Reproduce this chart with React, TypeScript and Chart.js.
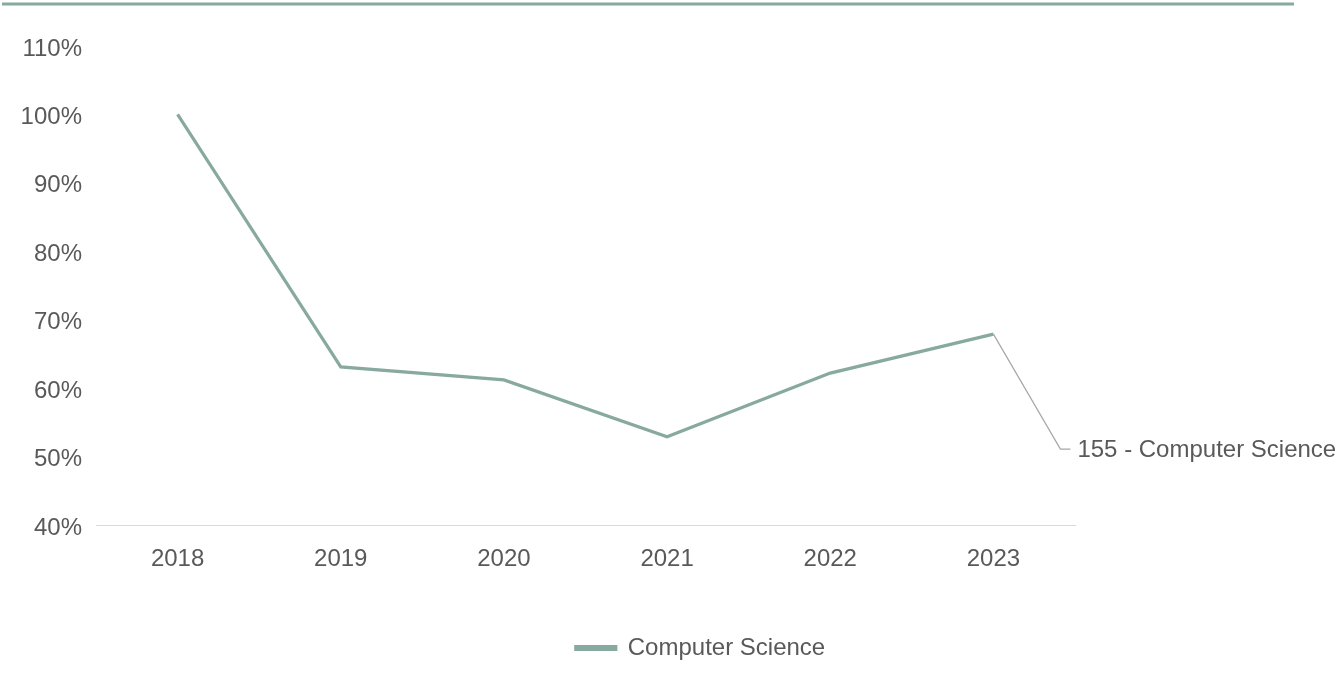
import React, { useEffect, useRef } from "react";
import { Chart, registerables } from "chart.js";

Chart.register(...registerables);

const years = ["2018", "2019", "2020", "2021", "2022", "2023"];
const seriesName = "Computer Science";
const values = [100, 63.1, 61.2, 52.9, 62.2, 67.9];
const yTicks = { min: 40, max: 110, step: 10 };
const calloutText = "155 - Computer Science";

const LINE_COLOR = "#87a9a0";
const TEXT_COLOR = "#595959";
const FONT = "'Liberation Sans', Arial, sans-serif";
const FONT_SIZE = 24;

const decorPlugin = {
  id: "decor",
  afterLayout(chart: any) {
    const lg = chart.legend;
    if (lg) {
      lg.left += 29;
      lg.right += 29;
    }
  },
  beforeDraw(chart: any) {
    const { ctx } = chart;
    ctx.save();
    ctx.strokeStyle = LINE_COLOR;
    ctx.lineWidth = 3;
    ctx.beginPath();
    ctx.moveTo(2, 4);
    ctx.lineTo(1294, 4);
    ctx.stroke();
    ctx.restore();
  },
  afterDatasetsDraw(chart: any) {
    const meta = chart.getDatasetMeta(0);
    const last = meta.data[meta.data.length - 1];
    if (!last) return;
    const { ctx } = chart;
    const x0 = last.x;
    const y0 = last.y;
    const x1 = x0 + 67;
    const y1 = y0 + 115;
    ctx.save();
    ctx.strokeStyle = "#a6a6a6";
    ctx.lineWidth = 1.2;
    ctx.beginPath();
    ctx.moveTo(x0, y0);
    ctx.lineTo(x1, y1);
    ctx.lineTo(x1 + 10, y1);
    ctx.stroke();
    ctx.fillStyle = TEXT_COLOR;
    ctx.font = `${FONT_SIZE}px ${FONT}`;
    ctx.textBaseline = "middle";
    ctx.textAlign = "left";
    ctx.fillText(calloutText, x1 + 17, y1 + 1);
    ctx.restore();
  },
};

export default function App() {
  const ref = useRef<HTMLCanvasElement | null>(null);

  useEffect(() => {
    document.body.style.margin = "0";
    if (!ref.current) return;
    const chart = new Chart(ref.current, {
      type: "line",
      data: {
        labels: years,
        datasets: [
          {
            label: seriesName,
            data: values,
            borderColor: LINE_COLOR,
            backgroundColor: LINE_COLOR,
            borderWidth: 3.2,
            pointRadius: 0,
            tension: 0,
            yAxisID: "y",
          },
        ],
      },
      options: {
        animation: false,
        responsive: true,
        maintainAspectRatio: false,
        layout: { padding: { left: 0, right: 0, top: 46, bottom: 20 } },
        plugins: {
          legend: {
            position: "bottom",
            labels: {
              boxWidth: 40,
              boxHeight: 3,
              color: TEXT_COLOR,
              font: { family: FONT, size: FONT_SIZE },
              padding: 10,
            },
          },
          tooltip: { enabled: false },
        },
        scales: {
          x: {
            offset: true,
            grid: { display: false },
            border: { display: true, color: "#d9d9d9", width: 1 },
            ticks: {
              color: TEXT_COLOR,
              font: { family: FONT, size: FONT_SIZE },
              padding: 12,
              maxRotation: 0,
            },
            afterFit(scale: any) {
              scale.height = 101;
            },
          },
          y: {
            min: yTicks.min,
            max: yTicks.max,
            grid: { display: false },
            border: { display: false },
            ticks: {
              stepSize: yTicks.step,
              color: TEXT_COLOR,
              font: { family: FONT, size: FONT_SIZE },
              padding: 6,
              labelOffset: 3,
              callback: (v: any) => `${v}%`,
            },
            afterFit(scale: any) {
              scale.width = 96;
            },
          },
          spacer: {
            type: "linear",
            position: "right",
            display: true,
            grid: { display: false },
            border: { display: false },
            ticks: { display: false },
            afterFit(scale: any) {
              scale.width = 1343 - 1075;
            },
          },
        },
      },
      plugins: [decorPlugin],
    });
    return () => chart.destroy();
  }, []);

  return (
    <div style={{ position: "fixed", left: 0, top: 0, width: 1343, height: 690 }}>
      <canvas ref={ref} />
    </div>
  );
}
